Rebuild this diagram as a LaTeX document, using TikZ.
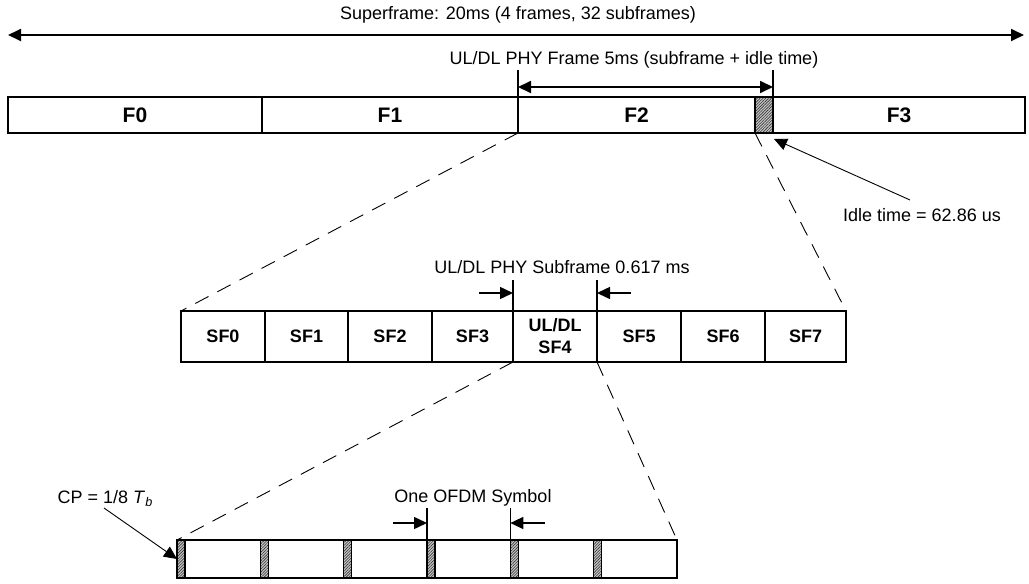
\documentclass[tikz,border=0pt]{standalone}
\usepackage{fontspec}
\setmainfont{Liberation Sans}
\usetikzlibrary{arrows.meta,patterns.meta,calc}
\begin{document}
\begin{tikzpicture}[x=1pt,y=-1pt,
  box/.style={draw, line width=1.6pt, inner sep=0pt, outer sep=0pt, anchor=north west},
  flab/.style={font=\fontsize{21}{24}\selectfont\bfseries},
  sflab/.style={font=\fontsize{18}{22}\selectfont\bfseries, align=center},
  hatch/.style={box, preaction={fill=gray!45}, pattern={Lines[angle=45,distance=2pt,line width=0.6pt]}, pattern color=black!80},
  lbl/.style={font=\fontsize{18}{21}\selectfont, inner sep=0pt},
  arr/.style={-{Triangle[length=13pt,width=12pt]}, line width=1.5pt},
  arrthin/.style={-{Triangle[length=13pt,width=12pt]}, line width=0.9pt},
  dbl/.style={{Triangle[length=13pt,width=12pt]}-{Triangle[length=13pt,width=12pt]}, line width=1.8pt},
  dashln/.style={dash pattern=on 15pt off 10pt, line width=0.9pt},
  markln/.style={line width=1.6pt}]
\useasboundingbox (0,0) rectangle (1029,584);

% Superframe
\node[lbl] (tsuper) at (518,15) {Superframe: 20ms (4 frames, 32 subframes)};
\coordinate (sl) at (8,35);
\coordinate (sr) at (1024,35);
\draw[dbl] (sl) -- (sr);

% Frame bar
\node[box, flab, minimum width=254pt, minimum height=36pt] (F0) at (8,97) {F0};
\node[box, flab, minimum width=256pt, minimum height=36pt] (F1) at (262,97) {F1};
\node[box, flab, minimum width=237pt, minimum height=36pt] (F2) at (518,97) {F2};
\node[hatch, minimum width=18pt, minimum height=36pt] (idle) at (755,97) {};
\node[box, flab, minimum width=252pt, minimum height=36pt] (F3) at (773,97) {F3};

% Frame marker
\node[lbl] (tframe) at (634,60) {UL/DL PHY Frame 5ms (subframe + idle time)};
\coordinate (ftl) at (518,70);
\coordinate (ftr) at (773,70);
\draw[markln] (F2.north west) -- (ftl);
\draw[markln] (idle.north east) -- (ftr);
\coordinate (fal) at (518,87);
\coordinate (far) at (773,87);
\draw[dbl] (fal) -- (far);

% Idle time
\node[lbl, anchor=west] (tidle) at (843,215) {Idle time = 62.86 us};
\coordinate (its) at (910,200);
\coordinate (itip) at (774,139);
\draw[arrthin] (its) -- (itip);

% Subframe bar
\foreach \x/\w/\t/\n in {181/84/SF0/sf0, 265/83/SF1/sf1, 348/84/SF2/sf2, 432/81/SF3/sf3, 597/84/SF5/sf5, 681/84/SF6/sf6, 765/81/SF7/sf7}{
  \node[box, sflab, minimum width=\w pt, minimum height=51pt] (\n) at (\x,311) {\t};
}
\node[box, sflab, minimum width=84pt, minimum height=51pt] (sf4) at (513,311) {UL/DL\\SF4};

% Subframe marker
\node[lbl] (tsub) at (562,267) {UL/DL PHY Subframe 0.617 ms};
\coordinate (stl) at (513,280);
\coordinate (str) at (597,280);
\draw[markln] (sf4.north west) -- (stl);
\draw[markln] (sf4.north east) -- (str);
\coordinate (sa1) at (479,293);
\coordinate (sb1) at (513,293);
\coordinate (sa2) at (631,293);
\coordinate (sb2) at (597,293);
\draw[arr] (sa1) -- (sb1);
\draw[arr] (sa2) -- (sb2);

% OFDM symbol bar
\foreach \i in {0,...,5}{
  \pgfmathsetmacro\xx{177+83.333*\i}
  \node[hatch, minimum width=8pt, minimum height=38pt] (h\i) at (\xx,540) {};
  \node[box, minimum width=75.33pt, minimum height=38pt] (s\i) at (\xx+8,540) {};
}

% OFDM marker
\node[lbl] (tofdm) at (473,498) {One OFDM Symbol};
\coordinate (o1) at (h3.north west |- 0,508);
\coordinate (o2) at (h4.north west |- 0,508);
\draw[markln] (h3.north west) -- (o1);
\draw[markln] (h4.north west) -- (o2);
\coordinate (oa1) at (393,523);
\coordinate (ob1) at (h3.north west |- 0,523);
\coordinate (oa2) at (545,523);
\coordinate (ob2) at (h4.north west |- 0,523);
\draw[arr] (oa1) -- (ob1);
\draw[arr] (oa2) -- (ob2);

% CP label
\node[lbl, anchor=base east] (tcp) at (153,503) {CP = 1/8 \textit{T}\textsubscript{\textit{b}}};
\coordinate (cps) at (104,508);
\draw[arrthin] (cps) -- (h0.west);

% Zoom lines
\draw[dashln] (F2.south west) -- (sf0.north west);
\draw[dashln] (idle.south west) -- (sf7.north east);
\draw[dashln] (sf4.south west) -- (h0.north west);
\draw[dashln] (sf4.south east) -- (s5.north east);
\end{tikzpicture}
\end{document}
